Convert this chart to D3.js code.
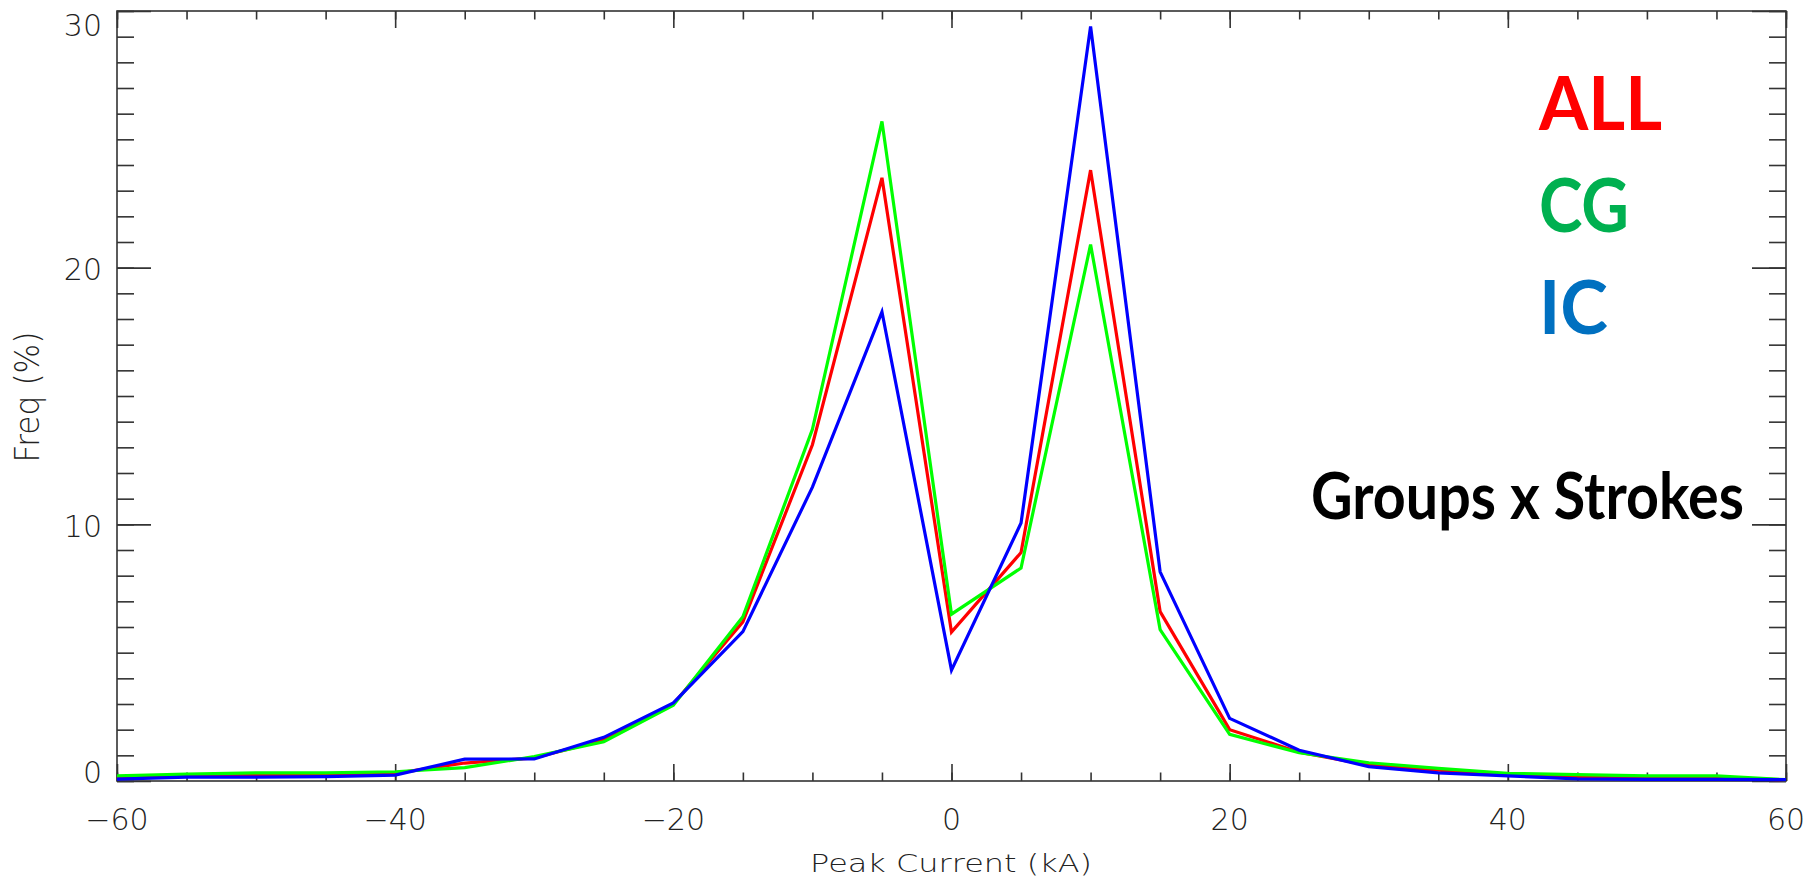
<!DOCTYPE html>
<html>
<head>
<meta charset="utf-8">
<script src="https://cdn.jsdelivr.net/npm/d3@7"></script>
<style>
  html, body { margin: 0; padding: 0; background: #fff; }
  svg { display: block; }
</style>
</head>
<body>
<svg id="chart" width="1806" height="878"></svg>
<script>
// ---- data ----
const peakCurrent = [-60,-55,-50,-45,-40,-35,-30,-25,-20,-15,-10,-5,0,5,10,15,20,25,30,35,40,45,50,55,60];
const allFreq = [0.12,0.20,0.22,0.25,0.30,0.70,0.90,1.60,3.00,6.20,13.1,23.5,5.80,8.90,23.8,6.60,2.00,1.12,0.62,0.42,0.25,0.15,0.10,0.10,0.05];
const cgFreq  = [0.20,0.27,0.32,0.32,0.36,0.52,0.95,1.53,2.95,6.40,13.7,25.7,6.50,8.30,20.9,5.90,1.82,1.10,0.71,0.49,0.30,0.25,0.20,0.20,0.05];
const icFreq  = [0.07,0.15,0.15,0.17,0.23,0.85,0.86,1.70,3.04,5.82,11.45,18.28,4.32,10.05,29.4,8.15,2.44,1.20,0.56,0.32,0.20,0.08,0.06,0.06,0.05];
const xMajorTicks = [-60,-40,-20,0,20,40,60];
const yMajorTicks = [0,10,20,30];
const seriesNames = ["ALL","CG","IC"];
const xTitle = "Peak Current (kA)";
const yTitle = "Freq (%)";
const noteText = "Groups x Strokes";

// ---- layout ----
const L = 117, R = 1786, T = 11, B = 781;
const svg = d3.select("#chart");
const x = d3.scaleLinear().domain([-60, 60]).range([L, R]);
const y = d3.scaleLinear().domain([0, 30]).range([B, T]);

const axisColor = "#333";
const tickFont = "'DejaVu Sans', sans-serif";

// frame
svg.append("rect").attr("x", L).attr("y", T).attr("width", R - L).attr("height", B - T)
  .attr("fill", "none").attr("stroke", axisColor).attr("stroke-width", 1.6);

// ticks via d3 axes
const xMinor = d3.range(-60, 61, 5);
const yMinor = d3.range(0, 31, 1);
function xAx(gen, ty, vals, size) {
  svg.append("g").attr("transform", `translate(0,${ty})`)
    .call(gen(x).tickValues(vals).tickSize(size).tickFormat(""))
    .call(g => g.select(".domain").remove())
    .call(g => g.selectAll("line").attr("stroke", axisColor).attr("stroke-width", 1.6));
}
function yAx(gen, tx, vals, size) {
  svg.append("g").attr("transform", `translate(${tx},0)`)
    .call(gen(y).tickValues(vals).tickSize(size).tickFormat(""))
    .call(g => g.select(".domain").remove())
    .call(g => g.selectAll("line").attr("stroke", axisColor).attr("stroke-width", 1.6));
}
xAx(d3.axisBottom, B, xMinor, -8.5);
xAx(d3.axisBottom, B, xMajorTicks, -17);
xAx(d3.axisTop, T, xMinor, -8.5);
xAx(d3.axisTop, T, xMajorTicks, -17);
yAx(d3.axisLeft, L, yMinor, -17);
yAx(d3.axisLeft, L, yMajorTicks, -34);
yAx(d3.axisRight, R, yMinor, -17);
yAx(d3.axisRight, R, yMajorTicks, -34);

// tick labels
svg.append("g").selectAll("text").data(xMajorTicks).join("text")
  .attr("x", d => x(d)).attr("y", 830)
  .attr("text-anchor", "middle")
  .attr("font-family", tickFont).attr("font-weight", 200).attr("font-size", 30).attr("fill", "#222")
  .text(d => d < 0 ? "\u2212" + Math.abs(d) : String(d));
svg.append("g").selectAll("text").data(yMajorTicks).join("text")
  .attr("x", 102).attr("y", d => Math.max(25, Math.min(772, y(d) + 2)) + 10.8)
  .attr("text-anchor", "end")
  .attr("font-family", tickFont).attr("font-weight", 200).attr("font-size", 30).attr("fill", "#222")
  .text(d => String(d));

// axis titles
svg.append("text").attr("x", 951).attr("y", 872).attr("text-anchor", "middle")
  .attr("font-family", tickFont).attr("font-weight", 200).attr("font-size", 25).attr("fill", "#222")
  .attr("textLength", 282).attr("lengthAdjust", "spacingAndGlyphs")
  .text(xTitle);
svg.append("text").attr("transform", "translate(39,397) rotate(-90)").attr("text-anchor", "middle")
  .attr("font-family", tickFont).attr("font-weight", 200).attr("font-size", 33).attr("fill", "#222")
  .attr("textLength", 131).attr("lengthAdjust", "spacingAndGlyphs")
  .text(yTitle);

// lines
const line = d3.line().x((d, i) => x(peakCurrent[i])).y(d => y(d));
const series = [
  { vals: allFreq, color: "#ff0000" },
  { vals: cgFreq, color: "#00ff00" },
  { vals: icFreq, color: "#0000ff" }
];
svg.append("g").selectAll("path").data(series).join("path")
  .attr("d", d => line(d.vals))
  .attr("fill", "none").attr("stroke", d => d.color).attr("stroke-width", 3.2)
  .attr("stroke-linejoin", "miter");

// legend labels
const legendColors = ["#ff0000", "#00b050", "#0070c0"];
const legendBase = [130, 232, 334];
const legendWidth = [123, 90, 69];
svg.append("g").selectAll("text").data(seriesNames).join("text")
  .attr("x", 1539).attr("y", (d, i) => legendBase[i])
  .attr("font-family", "Lato, 'Open Sans', sans-serif").attr("font-weight", 700).attr("font-size", 75)
  .attr("fill", (d, i) => legendColors[i])
  .attr("textLength", (d, i) => legendWidth[i]).attr("lengthAdjust", "spacingAndGlyphs")
  .text(d => d);

svg.append("text").attr("x", 1311).attr("y", 519)
  .attr("font-family", "Lato, 'Open Sans', sans-serif").attr("font-weight", 700).attr("font-size", 65)
  .attr("fill", "#000")
  .attr("textLength", 433).attr("lengthAdjust", "spacingAndGlyphs")
  .text(noteText);
</script>
</body>
</html>
